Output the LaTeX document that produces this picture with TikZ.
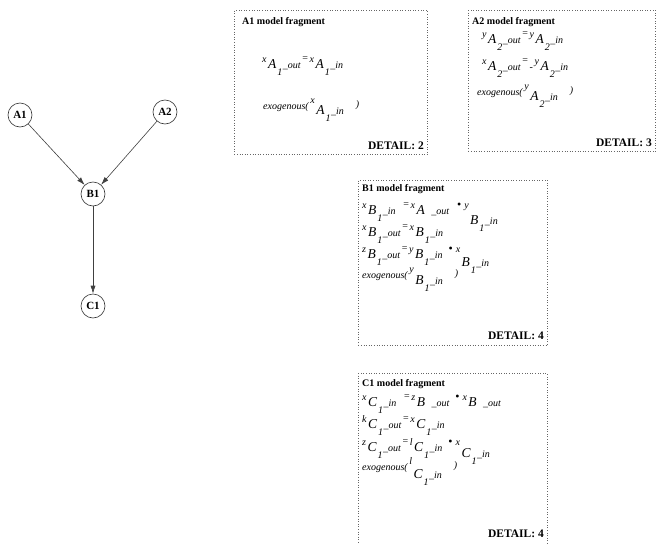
\documentclass[tikz,border=0pt]{standalone}
\usepackage{fontspec}
\setmainfont{Liberation Serif}
\usetikzlibrary{arrows.meta}
\newcommand{\sm}{\fontsize{10}{10}\selectfont\itshape}
\newcommand{\md}{\fontsize{13.5}{13.5}\selectfont\itshape}
\newcommand{\vx}[4]{\raisebox{6pt}{\sm #1}\kern1.5pt{\md #2}\kern1pt\raisebox{-7pt}{\sm #3}\kern0.5pt\raisebox{0pt}{\sm\_#4}}
\newcommand{\vlow}[5]{\raisebox{6pt}{\sm #1}\kern1.5pt\raisebox{-#5}{{\md #2}\kern1pt\raisebox{-7pt}{\sm #3}\kern0.5pt\raisebox{0pt}{\sm\_#4}}}
\newcommand{\eqs}{\raisebox{7pt}{\fontsize{10}{10}\selectfont\,=\,}}
\newcommand{\bul}{\raisebox{6pt}{\fontsize{12}{12}\selectfont\textbullet}}
\newcommand{\exo}{{\fontsize{10}{10}\selectfont\itshape exogenous(\,}}
\newcommand{\rp}{\raisebox{2pt}{\sm )}}
\begin{document}
\begin{tikzpicture}[x=1pt,y=-1pt,
  gnode/.style={circle, draw=black!80, semithick, inner sep=0pt, minimum size=24pt, font=\fontsize{11}{11}\selectfont\bfseries},
  edge/.style={-{Latex[length=8pt,width=5pt]}, draw=black!75, semithick},
  frag/.style={draw=black!60, dotted, semithick, inner sep=0pt, anchor=north west},
  ftitle/.style={anchor=base west, inner sep=0pt, font=\fontsize{10}{10}\selectfont\bfseries},
  eqline/.style={anchor=base west, inner sep=0pt},
  detail/.style={anchor=base east, inner sep=0pt, font=\fontsize{11.5}{11.5}\selectfont\bfseries}]
\useasboundingbox (0,0) rectangle (657,544);

% graph
\node[gnode] (A1) at (20,115) {A1};
\node[gnode] (A2) at (165,112) {A2};
\node[gnode] (B1) at (93,194) {B1};
\node[gnode] (C1) at (93,306) {C1};
\draw[edge] (A1) -- (B1);
\draw[edge] (A2) -- (B1);
\draw[edge] (B1) -- (C1);

% A1 fragment
\node[frag, minimum width=193pt, minimum height=144pt] (fA1) at (234,10) {};
\node[ftitle] (tA1) at (242,24) {A1 model fragment};
\node[eqline] (eA1a) at (262,68) {\vx{x}{A}{1}{out}\eqs\vx{x}{A}{1}{in}};
\node[eqline] (eA1b) at (263,109) {\exo\vlow{x}{A}{1}{in}{5pt}\hspace{12pt}\rp};
\node[detail] (dA1) at (424,149) {DETAIL: 2};

% A2 fragment
\node[frag, minimum width=187pt, minimum height=141pt] (fA2) at (468,10) {};
\node[ftitle] (tA2) at (472,24) {A2 model fragment};
\node[eqline] (eA2a) at (482,43) {\vx{y}{A}{2}{out}\eqs\vx{y}{A}{2}{in}};
\node[eqline] (eA2b) at (482,70) {\vx{x}{A}{2}{out}\eqs{\fontsize{10}{10}\selectfont -}\,\vx{y}{A}{2}{in}};
\node[eqline] (eA2c) at (477,95) {\exo\vlow{y}{A}{2}{in}{5pt}\hspace{12pt}\rp};
\node[detail] (dA2) at (652,146) {DETAIL: 3};

% B1 fragment
\node[frag, minimum width=189pt, minimum height=165pt] (fB1) at (358,180) {};
\node[ftitle] (tB1) at (362,191) {B1 model fragment};
\node[eqline] (eB1a) at (362,214) {\vx{x}{B}{1}{in}\hspace{6pt}\eqs\vx{x}{A}{\phantom{1}}{out}\hspace{8pt}\bul\hspace{3pt}\vlow{y}{B}{1}{in}{10pt}};
\node[eqline] (eB1b) at (362,236) {\vx{x}{B}{1}{out}\eqs\vx{x}{B}{1}{in}};
\node[eqline] (eB1c) at (362,258) {\vx{z}{B}{1}{out}\eqs\vx{y}{B}{1}{in}\hspace{6pt}\bul\hspace{3pt}\vlow{x}{B}{1}{in}{8pt}};
\node[eqline] (eB1d) at (362,278) {\exo\vlow{y}{B}{1}{in}{6pt}\hspace{12pt}\rp};
\node[detail] (dB1) at (544,339) {DETAIL: 4};

% C1 fragment
\node[frag, minimum width=189pt, minimum height=171pt] (fC1) at (358,373) {};
\node[ftitle] (tC1) at (362,386) {C1 model fragment};
\node[eqline] (eC1a) at (362,406) {\vx{x}{C}{1}{in}\hspace{6pt}\eqs\vx{z}{B}{\phantom{1}}{out}\hspace{6pt}\bul\hspace{3pt}\vx{x}{B}{\phantom{1}}{out}};
\node[eqline] (eC1b) at (362,428) {\vx{k}{C}{1}{out}\eqs\vx{x}{C}{1}{in}};
\node[eqline] (eC1c) at (362,451) {\vx{z}{C}{1}{out}\eqs\vx{l}{C}{1}{in}\hspace{6pt}\bul\hspace{3pt}\vlow{x}{C}{1}{in}{6pt}};
\node[eqline] (eC1d) at (362,470) {\exo\vlow{l}{C}{1}{in}{8pt}\hspace{12pt}\rp};
\node[detail] (dC1) at (544,537) {DETAIL: 4};
\end{tikzpicture}
\end{document}
